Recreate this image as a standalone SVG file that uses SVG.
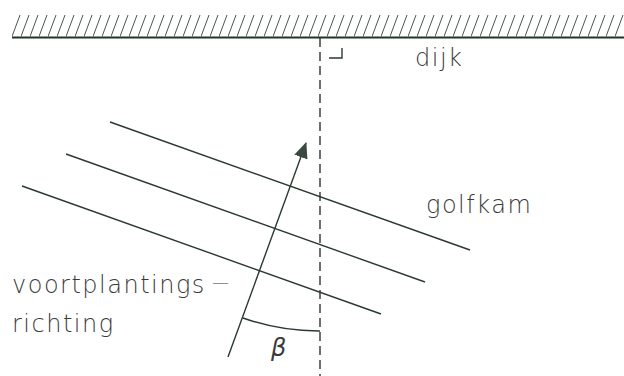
<svg xmlns="http://www.w3.org/2000/svg" width="624" height="376" viewBox="0 0 624 376">
<defs>
<style>
.ln{stroke:#2b3a30;stroke-width:1.4;fill:none}
.hatch{stroke:#4a554d;stroke-width:1;fill:none}
.dash{stroke:#222;stroke-width:1.3;fill:none;stroke-dasharray:9 5}
.t{font-family:"DejaVu Sans","Liberation Sans",sans-serif;font-size:24px;fill:#3a3a3a;font-weight:300;letter-spacing:1.5px}
</style>
<pattern id="hp" x="12" y="14" width="9" height="23" patternUnits="userSpaceOnUse">
<line x1="0" y1="22.5" x2="8" y2="1" class="hatch"/>
</pattern>
<marker id="ah" viewBox="0 0 16 14" refX="15" refY="7" markerWidth="16" markerHeight="14" markerUnits="userSpaceOnUse" orient="auto">
<path d="M0,0 L16,7 L0,14 Z" fill="#3a4a40"/>
</marker>
</defs>
<rect width="624" height="376" fill="#fff"/>
<g id="dijk">
<rect x="12" y="14" width="612" height="23" fill="url(#hp)"/>
<line x1="12" y1="37.5" x2="624" y2="37.5" stroke="#1f3527" stroke-width="2.2"/>
<path d="M329,58 H342 V48" class="ln" stroke-width="1.2"/>
<text x="415" y="66" class="t">dijk</text>
</g>
<g id="normaal">
<line x1="320" y1="38" x2="320" y2="376" class="dash"/>
</g>
<g id="golfkam">
<line x1="110" y1="122" x2="470" y2="250" class="ln"/>
<line x1="66" y1="154" x2="425" y2="282" class="ln"/>
<line x1="22" y1="186" x2="381" y2="314" class="ln"/>
<text x="426" y="213" class="t">golfkam</text>
</g>
<g id="connectors">
<line x1="228" y1="357" x2="306" y2="143" class="ln" marker-end="url(#ah)"/>
<path d="M243,318 A225,225 0 0 0 320,331" class="ln"/>
</g>
<g id="richting">
<text x="12" y="293" class="t">voortplantings<tspan dx="6" dy="-5" font-size="17">—</tspan></text>
<text x="12" y="332" class="t">richting</text>
<text x="271" y="356" class="t" font-style="italic" font-weight="200" letter-spacing="0">β</text>
</g>
</svg>
